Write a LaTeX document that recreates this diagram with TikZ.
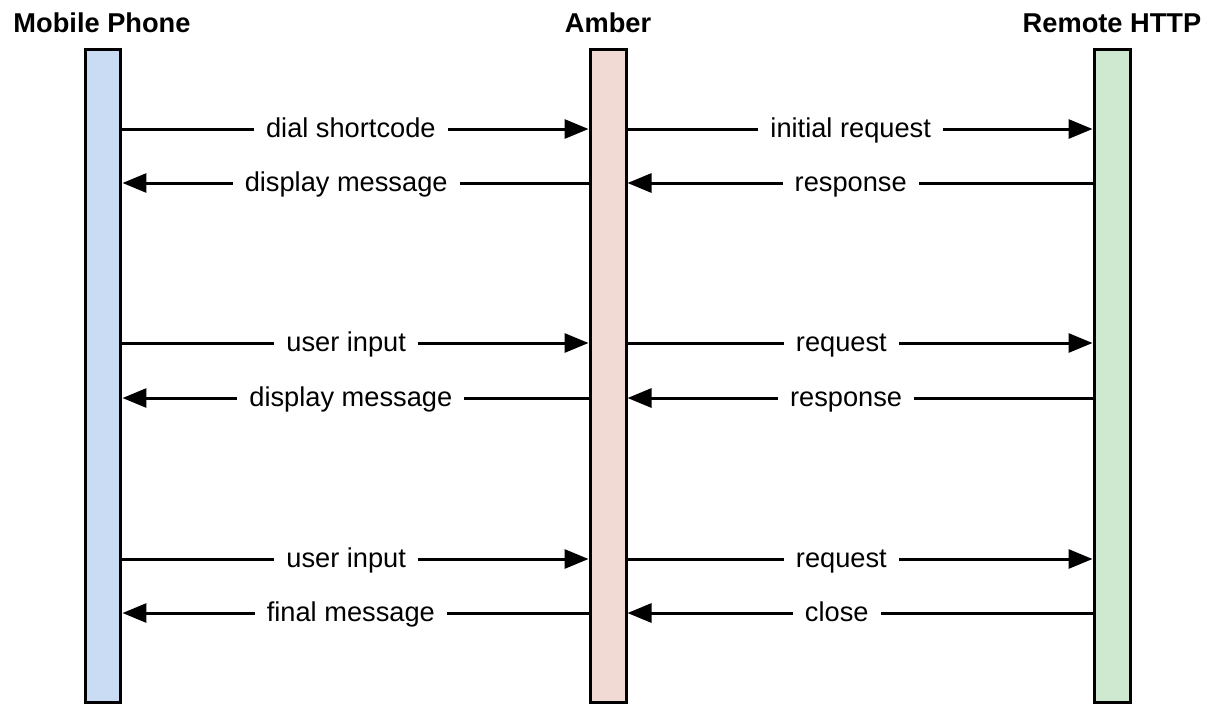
\documentclass[tikz,border=0pt]{standalone}
\usepackage{fontspec}
\setmainfont{Liberation Sans}
\usetikzlibrary{arrows.meta}
\definecolor{phoneblue}{HTML}{CADCF4}
\definecolor{amberpink}{HTML}{F0DAD3}
\definecolor{remotegreen}{HTML}{CEE9CF}
\tikzset{
  lifeline/.style={draw,line width=0.06cm,minimum width=0.72cm,minimum height=13.08cm,inner sep=0pt},
  actor/.style={anchor=base,font=\fontsize{15.5}{18}\selectfont\bfseries},
  msg/.style={line width=0.06cm,-{Triangle[length=0.48cm,width=0.38cm]}},
  lbl/.style={fill=white,inner xsep=0.24cm,inner ysep=1pt,text height=1em,text depth=0.02em,font=\fontsize{15.5}{18}\selectfont},
}

\begin{document}
\begin{tikzpicture}[x=0.02cm,y=-0.02cm]
        \useasboundingbox (0,0) rectangle (1213,704);
        % lifelines
        \node[lifeline,fill=phoneblue]   (phone)  at ( 103,376) {};
        \node[lifeline,fill=amberpink]   (amber)  at ( 608,376) {};
        \node[lifeline,fill=remotegreen] (remote) at (1112,376) {};
        \node[actor] (phonetitle)  at ( 102,32) {Mobile Phone};
        \node[actor] (ambertitle)  at ( 608,32) {Amber};
        \node[actor] (remotetitle) at (1112,32) {Remote HTTP};
        % first session
        \draw[msg] (phone.east |- 0,129) -- (amber.west |- 0,129) node[lbl,pos=0.49] {dial shortcode};
        \draw[msg] (amber.east |- 0,129) -- (remote.west |- 0,129) node[lbl,pos=0.48] {initial request};
        \draw[msg] (remote.west |- 0,183) -- (amber.east |- 0,183) node[lbl,pos=0.52] {response};
        \draw[msg] (amber.west |- 0,183) -- (phone.east |- 0,183) node[lbl,pos=0.52] {display message};
        % second session
        \draw[msg] (phone.east |- 0,343) -- (amber.west |- 0,343) node[lbl,pos=0.48] {user input};
        \draw[msg] (amber.east |- 0,343) -- (remote.west |- 0,343) node[lbl,pos=0.46] {request};
        \draw[msg] (remote.west |- 0,398) -- (amber.east |- 0,398) node[lbl,pos=0.53] {response};
        \draw[msg] (amber.west |- 0,398) -- (phone.east |- 0,398) node[lbl,pos=0.51] {display message};
        % third session
        \draw[msg] (phone.east |- 0,559) -- (amber.west |- 0,559) node[lbl,pos=0.48] {user input};
        \draw[msg] (amber.east |- 0,559) -- (remote.west |- 0,559) node[lbl,pos=0.46] {request};
        \draw[msg] (remote.west |- 0,613) -- (amber.east |- 0,613) node[lbl,pos=0.55] {close};
        \draw[msg] (amber.west |- 0,613) -- (phone.east |- 0,613) node[lbl,pos=0.51] {final message};
      \end{tikzpicture}
\end{document}
